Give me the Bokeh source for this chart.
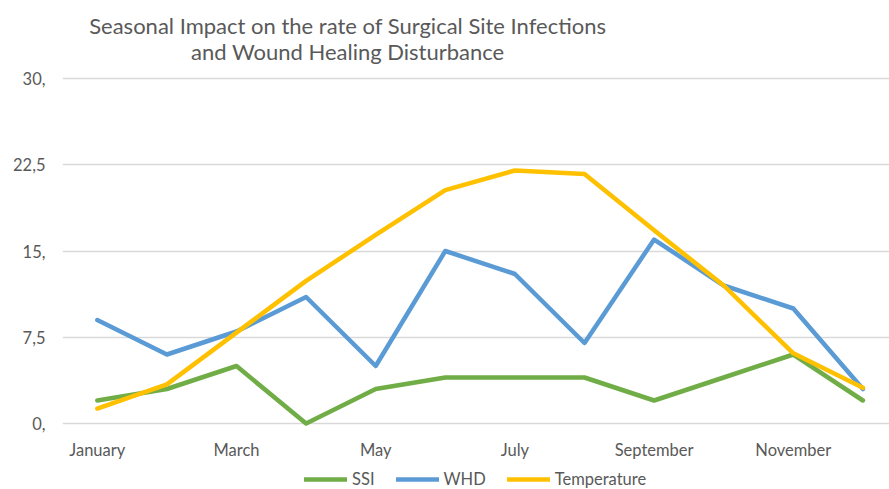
from bokeh.plotting import figure
from bokeh.models import (Range1d, FixedTicker, Legend, LegendItem, Label)
from bokeh.embed import file_html
from bokeh.resources import INLINE

months = ["January", "February", "March", "April", "May", "June", "July",
          "August", "September", "October", "November", "December"]
ssi = [2, 3, 5, 0, 3, 4, 4, 4, 2, 4, 6, 2]
whd = [9, 6, 8, 11, 5, 15, 13, 7, 16, 12, 10, 3]
temperature = [1.3, 3.4, 7.9, 12.4, 16.4, 20.3, 22.0, 21.7, 16.8, 12.0, 6.1, 3.1]
y_ticks = [0, 7.5, 15, 22.5, 30]
y_tick_labels = ["0,", "7,5", "15,", "22,5", "30,"]
title_lines = ["Seasonal Impact on the rate of Surgical Site Infections",
               "and Wound Healing Disturbance"]

FONT = "Lato"
TXT = "#595959"

x = list(range(len(months)))

# frame covers the whole canvas right of the value axis; title and legend
# sit inside it, the category axis is pinned at value 0
p = figure(width=889, height=489, output_backend="svg", toolbar_location=None,
           x_range=Range1d(-0.5, 11.382), y_range=Range1d(-5.739, 36.783),
           min_border_left=62, min_border_right=0, min_border_top=0,
           min_border_bottom=0)
p.outline_line_color = None
p.background_fill_color = "white"
p.border_fill_color = "white"

p.xgrid.grid_line_color = None
p.ygrid.grid_line_color = "#D9D9D9"
p.ygrid.grid_line_width = 1.3
p.ygrid.ticker = FixedTicker(ticks=y_ticks)

p.yaxis.ticker = FixedTicker(ticks=y_ticks)
p.yaxis.major_label_overrides = {t: l for t, l in zip(y_ticks, y_tick_labels)}
p.xaxis.ticker = FixedTicker(ticks=x[::2])
p.xaxis.major_label_overrides = {i: months[i] for i in x[::2]}
p.xaxis.fixed_location = 0
for ax in (p.xaxis[0], p.yaxis[0]):
    ax.axis_line_color = None
    ax.major_tick_line_color = None
    ax.minor_tick_line_color = None
    ax.major_tick_out = 0
    ax.major_tick_in = 0
    ax.major_label_text_font = FONT
    ax.major_label_text_font_size = "16.5px"
    ax.major_label_text_color = TXT
p.yaxis.major_label_standoff = 17
p.xaxis.major_label_standoff = 16

r_ssi = p.line(x, ssi, line_color="#70AD47", line_width=4.5, line_join="round", line_cap="round")
r_whd = p.line(x, whd, line_color="#5B9BD5", line_width=4.5, line_join="round", line_cap="round")
r_tmp = p.line(x, temperature, line_color="#FFC000", line_width=4.5, line_join="round", line_cap="round")

legend = Legend(items=[LegendItem(label="SSI", renderers=[r_ssi]),
                       LegendItem(label="WHD", renderers=[r_whd]),
                       LegendItem(label="Temperature", renderers=[r_tmp])],
                orientation="horizontal", location=(242, 0),
                glyph_width=43, glyph_height=20, label_height=20,
                label_standoff=5, spacing=21, padding=0, margin=0,
                border_line_color=None, background_fill_alpha=0,
                label_text_font=FONT, label_text_font_size="16.5px",
                label_text_color=TXT)
p.add_layout(legend)

for line, yv in zip(title_lines, [34.61, 32.35]):
    p.add_layout(Label(x=3.599, y=yv, text=line, text_align="center",
                       text_baseline="middle", text_font=FONT,
                       text_font_size="22px", text_color=TXT))

open("out.html", "w").write(file_html(p, INLINE))
